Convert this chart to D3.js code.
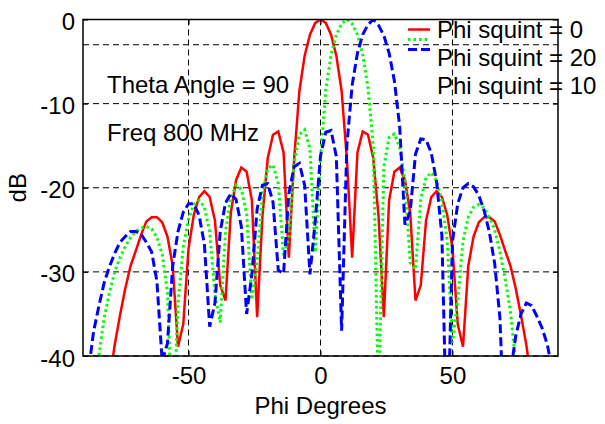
<!DOCTYPE html>
<html>
<head>
<meta charset="utf-8">
<script src="https://cdn.jsdelivr.net/npm/d3@7"></script>
<style>
  body { margin: 0; background: #fff; }
  svg { display: block; }
  text { font-family: "Liberation Sans", Arial, sans-serif; fill: #000; }
</style>
</head>
<body>
<svg id="chart" width="605" height="424"></svg>
<script>
// phi sample angles (deg) and the three squinted patterns (dB)
var phiDeg = [-90,-88,-86,-84,-82,-80,-78,-76,-74,-72,-70,-68,-66,-64,-62,-60,-58,-56,-54,-52,
  -50,-48,-46,-44,-42,-40,-38,-36,-34,-32,-30,-28,-26,-24,-22,-20,-18,-16,-14,-12,
  -10,-8,-6,-4,-2,0,2,4,6,8,10,12,14,16,18,20,22,24,26,28,
  30,32,34,36,38,40,42,44,46,48,50,52,54,56,58,60,62,64,66,68,
  70,72,74,76,78,80,82,84,86,88,90];

var squint0 = [-100,-80,-65,-55,-48,-43.1,-38.7,-35.2,-32,-29.3,-27.5,-25.6,-24,-23.5,-23.5,-24.1,-25.8,-29.3,-38.9,-36.2,
  -27.2,-23.2,-21.1,-20.4,-21.1,-23.9,-31.6,-33.4,-23,-19.1,-17.6,-18.1,-21.5,-35.4,-23.4,-16.5,-13.7,-13.3,-15.8,-28.3,
  -16.6,-8.5,-4.3,-1.8,-0.4,0,-0.4,-1.8,-4.3,-8.5,-16.6,-28.3,-15.8,-13.3,-13.7,-16.5,-23.4,-35.4,-21.5,-18.1,
  -17.6,-19.1,-23,-33.4,-31.6,-23.9,-21.1,-20.4,-21.1,-23.2,-27.2,-36.2,-38.9,-29.3,-25.8,-24.1,-23.5,-23.5,-24,-25.6,
  -27.5,-29.3,-32,-35.2,-38.7,-43.1,-48,-55,-65,-80,-100];

var squint10 = [-100,-52,-45,-40,-35.5,-32.5,-30,-28.3,-27,-25.9,-25.2,-24.8,-24.6,-24.9,-25.9,-27.9,-32.4,-50,-33.7,-27,
  -23.7,-22,-21.5,-22.3,-25.2,-32.7,-36,-25.2,-21.2,-19.7,-20.2,-23.1,-33.3,-28.7,-20.7,-17.7,-17.3,-19.5,-28.1,-25.9,
  -17,-13.7,-13.1,-15.4,-27.7,-16.5,-8.4,-4.2,-1.8,-0.5,0,-0.5,-1.8,-4.2,-8.1,-15.1,-46,-17.5,-14,-13.6,
  -15.2,-19.2,-28.9,-29.7,-21.4,-18.8,-18.2,-19.2,-21.6,-26.3,-38.4,-33.4,-26.3,-23.5,-22.3,-22,-22.4,-23.5,-25,-27.6,
  -30.9,-34.8,-40.9,-53,-51,-45,-44,-44,-45,-50,-100];

var squint20 = [-100,-42,-37.1,-34.1,-31.3,-29.4,-27.8,-26.5,-25.8,-25.2,-25.2,-25.5,-26.5,-27.6,-31.1,-40.6,-38.5,-29.3,-25.2,-22.9,
  -21.9,-21.9,-23.3,-26.7,-36.5,-33.7,-25.2,-21.8,-20.7,-21.4,-24.6,-35,-30.3,-22.5,-19.7,-19.5,-21.7,-29.8,-30.2,-20.7,
  -17.5,-17.1,-19.7,-30.3,-24,-16.2,-13.4,-13.2,-16.3,-37,-14.9,-7.8,-4,-1.8,-0.6,0,-0.7,-1.9,-4,-7.3,
  -12.7,-24.4,-22.8,-16,-14.2,-14.3,-15.9,-19.3,-25.7,-52,-26.4,-21.9,-20,-19.5,-19.9,-20.9,-22.7,-25.3,-29,-35.5,
  -52,-42,-37.6,-35,-33.7,-34,-35.3,-36.7,-38.7,-42,-100];

var xTicks = [-50, 0, 50];
var yTicks = [-40, -30, -20, -10, 0];
var halfPowerDb = -3;
var legendLabels = ["Phi squint = 0", "Phi squint = 20", "Phi squint = 10"];
var notes = ["Theta Angle = 90", "Freq 800 MHz"];

(function() {
  var svg = d3.select("#chart");
  var pl = 83, pr = 558, pt = 19.5, pb = 356;
  var fs = 24;

  var x = d3.scaleLinear().domain([-90, 90]).range([pl, pr]);
  var y = d3.scaleLinear().domain([-40, 0]).range([pb, pt]);

  svg.append("rect").attr("width", 605).attr("height", 424).attr("fill", "#fff");

  svg.append("defs").append("clipPath").attr("id", "plotclip")
    .append("rect").attr("x", pl).attr("y", pt).attr("width", pr - pl).attr("height", pb - pt);

  // dashed grid, plus the -3 dB line
  var grid = svg.append("g").attr("stroke", "#000").attr("stroke-width", 1)
    .attr("stroke-dasharray", "6,4").attr("fill", "none");
  xTicks.forEach(function(t) {
    grid.append("line").attr("x1", x(t)).attr("x2", x(t)).attr("y1", pt).attr("y2", pb);
  });
  yTicks.concat([halfPowerDb]).forEach(function(t) {
    grid.append("line").attr("x1", pl).attr("x2", pr).attr("y1", y(t)).attr("y2", y(t));
  });

  var series = [
    { values: squint0, color: "#ff0000", dash: null, width: 2.5 },
    { values: squint10, color: "#00ff00", dash: "2.5,3", width: 3 },
    { values: squint20, color: "#0000ff", dash: "9,4", width: 3 }
  ];

  var line = d3.line()
    .x(function(d) { return x(d[0]); })
    .y(function(d) { return y(d[1]); });

  var plot = svg.append("g").attr("clip-path", "url(#plotclip)");
  series.forEach(function(s) {
    plot.append("path")
      .datum(d3.zip(phiDeg, s.values))
      .attr("d", line)
      .attr("fill", "none")
      .attr("stroke", s.color)
      .attr("stroke-width", s.width)
      .attr("stroke-dasharray", s.dash);
  });

  // axes, ticks pointing inwards like matlab
  var fmt = function(d) { return String(d); };
  svg.append("g").attr("class", "xax").attr("transform", "translate(0," + pb + ")")
    .call(d3.axisBottom(x).tickValues(xTicks).tickSize(-5).tickPadding(11).tickFormat(fmt));
  svg.append("g").attr("class", "yax").attr("transform", "translate(" + pl + ",0)")
    .call(d3.axisLeft(y).tickValues(yTicks).tickSize(-5).tickPadding(8).tickFormat(fmt));
  svg.append("g").attr("transform", "translate(0," + pt + ")")
    .call(d3.axisTop(x).tickValues(xTicks).tickSize(-5).tickFormat(""));
  svg.append("g").attr("transform", "translate(" + pr + ",0)")
    .call(d3.axisRight(y).tickValues(yTicks).tickSize(-5).tickFormat(""));

  svg.selectAll(".domain").remove();
  svg.selectAll(".tick line").attr("stroke", "#000").attr("stroke-width", 1);
  svg.selectAll(".tick text").attr("font-size", fs).attr("fill", "#000")
    .attr("font-family", "Liberation Sans, Arial, sans-serif");
  svg.select(".yax").selectAll(".tick text").attr("dy", "0.42em");

  svg.append("rect").attr("x", pl).attr("y", pt)
    .attr("width", pr - pl).attr("height", pb - pt)
    .attr("fill", "none").attr("stroke", "#000").attr("stroke-width", 1.5);

  // axis labels and notes
  svg.append("text").attr("x", x(0)).attr("y", 414).attr("text-anchor", "middle")
    .attr("font-size", fs).text("Phi Degrees");
  svg.append("text").attr("transform", "translate(26," + y(-20) + ") rotate(-90)")
    .attr("text-anchor", "middle").attr("font-size", fs).text("dB");

  svg.append("text").attr("x", 107).attr("y", 93).attr("font-size", fs).text(notes[0]);
  svg.append("text").attr("x", 107).attr("y", 141).attr("font-size", fs).text(notes[1]);

  // legend without a box, samples and labels placed as in the original
  var legend = svg.append("g");
  series.forEach(function(s, i) {
    var ly = 29.5 + i * 10;
    legend.append("line").attr("x1", 408).attr("x2", 430).attr("y1", ly).attr("y2", ly)
      .attr("stroke", s.color).attr("stroke-width", s.width).attr("stroke-dasharray", s.dash);
  });
  legendLabels.forEach(function(t, i) {
    legend.append("text").attr("x", 437).attr("y", 37.5 + i * 28.3).attr("font-size", fs).text(t);
  });
})();
</script>
</body>
</html>
